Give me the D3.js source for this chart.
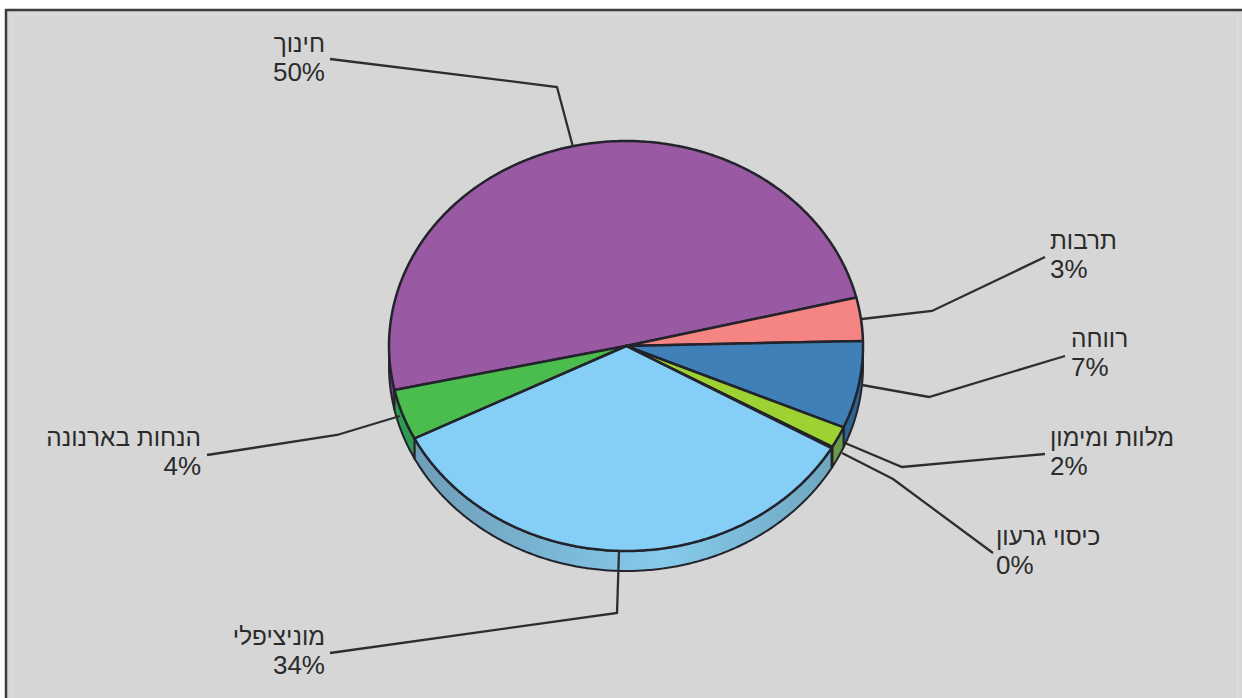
<!DOCTYPE html>
<html>
<head>
<meta charset="utf-8">
<script src="https://cdn.jsdelivr.net/npm/d3@7"></script>
<style>
	html, body { margin: 0; padding: 0; background: #fff; }
	svg { display: block; }
	text { font-family: "Liberation Sans", Arial, sans-serif; font-size: 24.4px; fill: #2b2b2b; }
	text.pct { font-size: 26px; }
</style>
</head>
<body>
<div id="chart"></div>
<script>
// slices clockwise, starting at the purple one
var names = ["חינוך", "תרבות", "רווחה", "מלוות ומימון", "כיסוי גרעון", "מוניציפלי", "הנחות בארנונה"];
var values = [49.7, 3.4, 6.9, 1.7, 0.1, 34.3, 4.0];
var percentLabels = ["50%", "3%", "7%", "2%", "0%", "34%", "4%"];

var topColors = ["#9a59a3", "#f58582", "#3f80b9", "#9ed232", "#8f8f3a", "#85cef6", "#4bbd4f"];
var wallColors = ["#6d3f74", "#b06060", "#2d6490", "#6a9a4a", "#6f6f30", "#78b4d2", "#2f9a50"];

// label placement: x, y of name baseline, anchor, then elbow and far end of leader
var labelLayout = [
	{x: 325, y: 52, anchor: "end", far: [330, 59], elbow: [557, 87], at: [573, 147]},
	{x: 1050, y: 249, anchor: "start", far: [1045, 257], elbow: [932, 311], at: [862, 319]},
	{x: 1071, y: 347, anchor: "start", far: [1065, 356], elbow: [929, 397], at: [862, 385]},
	{x: 1050, y: 446, anchor: "start", far: [1045, 454], elbow: [902, 467], at: [845, 443]},
	{x: 996, y: 545, anchor: "start", far: [993, 553], elbow: [893, 479], at: [842, 453]},
	{x: 325, y: 645, anchor: "end", far: [330, 653], elbow: [617, 613], at: [619, 551]},
	{x: 201, y: 446, anchor: "end", far: [207, 455], elbow: [337, 435], at: [400, 416]}
];

var width = 1242, height = 698;
var cx = 626, cy = 346, rx = 237, ry = 205, depth = 20;
var startDeg = 257.6;
var lineColor = "#23232b";

var svg = d3.select("#chart").append("svg")
	.attr("width", width)
	.attr("height", height);

// frame
svg.append("rect")
	.attr("x", 6).attr("y", 10)
	.attr("width", width + 20).attr("height", height)
	.attr("fill", "#d6d6d6")
	.attr("stroke", "#3c3c3c")
	.attr("stroke-width", 2.5);
svg.append("rect")
	.attr("x", 12).attr("y", 14.5)
	.attr("width", 1226).attr("height", height)
	.attr("fill", "none")
	.attr("stroke", "#dddddd")
	.attr("stroke-width", 1.5);

var pie = d3.pie().sort(null)
	.startAngle(startDeg * Math.PI / 180)
	.endAngle((startDeg + 360) * Math.PI / 180);
var arcs = pie(values);

// d3.pie angles run from 12 o'clock, so shift by a quarter turn
function px(a) { return cx + rx * Math.cos(a - Math.PI / 2); }
function py(a) { return cy + ry * Math.sin(a - Math.PI / 2); }
function rim(a0, a1) {
	var n = Math.max(2, Math.ceil((a1 - a0) / 0.01));
	return d3.range(n + 1).map(function (i) {
		var a = a0 + (a1 - a0) * i / n;
		return [px(a), py(a)];
	});
}
var line = d3.line();

var gradient = svg.append("defs").append("linearGradient")
	.attr("id", "wallBlue");
gradient.append("stop").attr("offset", "0%").attr("stop-color", "#6d9db8");
gradient.append("stop").attr("offset", "60%").attr("stop-color", "#86cbec");
gradient.append("stop").attr("offset", "100%").attr("stop-color", "#6fa6c0");

// side wall, only the front half of the rim is visible
var full = Math.PI * 2;
var frontStart = Math.PI / 2, frontEnd = Math.PI * 1.5;
arcs.forEach(function (d, i) {
	[0, full].forEach(function (shift) {
		var a0 = Math.max(d.startAngle - shift, frontStart);
		var a1 = Math.min(d.endAngle - shift, frontEnd);
		if (a1 <= a0) return;
		var pts = rim(a0, a1);
		var lower = pts.map(function (p) { return [p[0], p[1] + depth]; }).reverse();
		svg.append("path")
			.attr("d", line(pts.concat(lower)) + "Z")
			.attr("fill", i === 5 ? "url(#wallBlue)" : wallColors[i])
			.attr("stroke", lineColor)
			.attr("stroke-width", 2)
			.attr("stroke-linejoin", "round");
	});
});

// top face
svg.selectAll("path.slice")
	.data(arcs)
	.enter().append("path")
	.attr("class", "slice")
	.attr("d", function (d) {
		return line([[cx, cy]].concat(rim(d.startAngle, d.endAngle))) + "Z";
	})
	.attr("fill", function (d, i) { return topColors[i]; })
	.attr("stroke", lineColor)
	.attr("stroke-width", 2.5)
	.attr("stroke-linejoin", "round");

// leader lines
svg.selectAll("polyline.leader")
	.data(labelLayout)
	.enter().append("polyline")
	.attr("class", "leader")
	.attr("points", function (d) { return [d.far, d.elbow, d.at].join(" "); })
	.attr("fill", "none")
	.attr("stroke", "#2e2e2e")
	.attr("stroke-width", 2.3);

// labels
var labels = svg.selectAll("g.label")
	.data(labelLayout)
	.enter().append("g")
	.attr("class", "label");
labels.append("text")
	.attr("x", function (d) { return d.x; })
	.attr("y", function (d) { return d.y; })
	.attr("text-anchor", function (d) { return d.anchor; })
	.text(function (d, i) { return names[i]; });
labels.append("text")
	.attr("class", "pct")
	.attr("x", function (d) { return d.x; })
	.attr("y", function (d) { return d.y + 29; })
	.attr("text-anchor", function (d) { return d.anchor; })
	.text(function (d, i) { return percentLabels[i]; });
</script>
</body>
</html>
